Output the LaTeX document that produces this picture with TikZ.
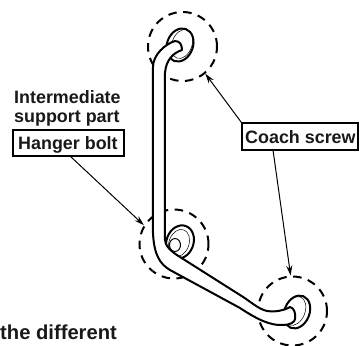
\documentclass[tikz,border=0pt]{standalone}
\usepackage{fontspec}
\setmainfont{Liberation Sans}
\usetikzlibrary{arrows.meta}
\tikzset{
  lbl/.style={font=\bfseries\fontsize{17.9}{19}\selectfont,inner sep=0pt,anchor=base west,text=black!90},
  lblbig/.style={font=\bfseries\fontsize{20.2}{22}\selectfont,inner sep=0pt,anchor=base west,text=black!90},
  tagbox/.style={draw=black,line width=1.6pt,inner sep=0pt,fill=white},
  zone/.style={circle,draw=black,line width=2pt,dash pattern=on 8.5pt off 6.5pt,inner sep=0pt,minimum size=69pt},
  rail/.style={line width=2pt,line cap=round,line join=round},
  thin part/.style={line width=0.5pt},
  flange/.style={draw=black,line width=2pt,fill=white},
  lead/.style={line width=1pt,-{Stealth[length=10pt,width=6pt]}}
}
\begin{document}
\begin{tikzpicture}[x=1pt,y=-1pt]
\useasboundingbox (0,0) rectangle (360,346);
% dashed zones
\node[zone] (ztop) at (182.5,46.5) {};
\node[zone] (zmid) at (174,244) {};
\node[zone] (zbot) at (292.5,311) {};
% flanges
\draw[flange,rotate around={-20:(180,45)}] (180,45) ellipse (13pt and 17pt);
\draw[thin part,rotate around={-20:(182,44)}] (182,44) ellipse (10pt and 15pt);
\draw[flange,rotate around={-20:(180,242)}] (180,242) ellipse (13.5pt and 17pt);
\draw[thin part,rotate around={-20:(179,243)}] (179,243) ellipse (10pt and 14pt);
\draw[rail,line width=1pt,fill=white] (175,245) ellipse (5.5pt and 6.5pt);
\draw[flange,rotate around={-22:(297,312)}] (297,312) ellipse (12.5pt and 17pt);
\draw[thin part,rotate around={-22:(295,311)}] (295,311) ellipse (10pt and 15pt);
% rail
\fill[white] (153,340) -- (153,233) .. controls (154,255) and (160,264) .. (170,270)
  -- (220,298) -- (240,308) .. controls (255,318) and (270,326) .. (283,325)
  .. controls (290,325) and (295,322) .. (295,319) .. controls (296,313) and (294,308) .. (290,307)
  .. controls (283,311) and (275,312) .. (267,311) .. controls (258,309) and (250,301) .. (240,295)
  -- (180,257) .. controls (170,250) and (165,245) .. (165,240)
  -- (165,73) .. controls (166,60) and (173,53) .. (182,50)
  .. controls (182,45) and (180,41) .. (175,41) .. controls (165,44) and (153,55) .. (153,67) -- cycle;
\draw[rail] (153,67) .. controls (153,55) and (165,44) .. (175,41)
  .. controls (180,41) and (182,45) .. (182,50) .. controls (173,53) and (166,60) .. (165,73)
  -- (165,240) .. controls (165,245) and (170,251) .. (180,257)
  -- (240,295) .. controls (250,301) and (258,309) .. (267,311)
  .. controls (275,312) and (283,311) .. (290,307)
  .. controls (294,308) and (296,313) .. (295,319)
  .. controls (295,322) and (290,325) .. (283,325)
  .. controls (270,326) and (255,318) .. (240,308)
  -- (170,270) .. controls (160,264) and (154,255) .. (153,233) -- cycle;
% labels
\node[lbl] (lint) at (14,103) {Intermediate};
\node[lbl] (lsup) at (14,122) {support part};
\node[tagbox,minimum width=111pt,minimum height=26pt] (hanger) at (68.5,143) {};
\node[lbl] (lhan) at (18,149) {Hanger bolt};
\node[tagbox,minimum width=116pt,minimum height=27pt] (coach) at (300,136.5) {};
\node[lbl] (lcoa) at (245,143) {Coach screw};
\node[lblbig] (ldif) at (0,339) {the different};
% leaders
\coordinate (hstart) at (70,156);
\coordinate (cstart) at (273,150);
\draw[lead] (hstart) -- (zmid.148);
\draw[lead] (coach.north west) -- (ztop.-50);
\draw[lead] (cstart) -- (zbot.93);
\end{tikzpicture}
\end{document}
